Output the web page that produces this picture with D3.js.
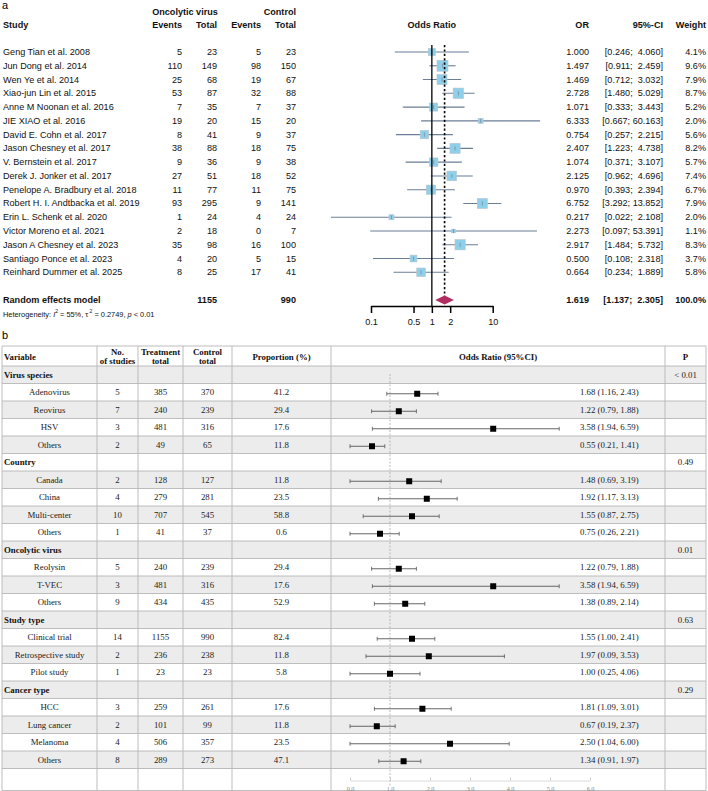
<!DOCTYPE html>
<html>
<head>
<meta charset="utf-8">
<script src="https://cdn.jsdelivr.net/npm/d3@7"></script>
<style>
  body { margin: 0; background: #fff; }
  svg text { white-space: pre; }
</style>
</head>
<body>
<svg id="chart" width="708" height="791"></svg>
<script>
// ── Panel a: study-level data ───────────────────────
const studies = [
  'Geng Tian et al. 2008', 'Jun Dong et al. 2014', 'Wen Ye et al. 2014',
  'Xiao-jun Lin et al. 2015', 'Anne M Noonan et al. 2016', 'JIE XIAO et al. 2016',
  'David E. Cohn et al. 2017', 'Jason Chesney et al. 2017', 'V. Bernstein et al. 2017',
  'Derek J. Jonker et al. 2017', 'Penelope A. Bradbury et al. 2018',
  'Robert H. I. Andtbacka et al. 2019', 'Erin L. Schenk et al. 2020',
  'Victor Moreno et al. 2021', 'Jason A Chesney et al. 2023',
  'Santiago Ponce et al. 2023', 'Reinhard Dummer et al. 2025'
];
const eventsOV  = [5, 110, 25, 53, 7, 19, 8, 38, 9, 27, 11, 93, 1, 2, 35, 4, 8];
const totalOV   = [23, 149, 68, 87, 35, 20, 41, 88, 36, 51, 77, 295, 24, 18, 98, 20, 25];
const eventsCtl = [5, 98, 19, 32, 7, 15, 9, 18, 9, 18, 11, 9, 4, 0, 16, 5, 17];
const totalCtl  = [23, 150, 67, 88, 37, 20, 37, 75, 38, 52, 75, 141, 24, 7, 100, 15, 41];
const orVals    = [1.000, 1.497, 1.469, 2.728, 1.071, 6.333, 0.754, 2.407, 1.074, 2.125, 0.970, 6.752, 0.217, 2.273, 2.917, 0.500, 0.664];
const ciLow     = [0.246, 0.911, 0.712, 1.480, 0.333, 0.667, 0.257, 1.223, 0.371, 0.962, 0.393, 3.292, 0.022, 0.097, 1.484, 0.108, 0.234];
const ciHigh    = [4.060, 2.459, 3.032, 5.029, 3.443, 60.163, 2.215, 4.738, 3.107, 4.696, 2.394, 13.852, 2.108, 53.391, 5.732, 2.318, 1.889];
const weights   = [4.1, 9.6, 7.9, 8.7, 5.2, 2.0, 5.6, 8.2, 5.7, 7.4, 6.7, 7.9, 2.0, 1.1, 8.3, 3.7, 5.8];
const pooled    = [1.619, 1.137, 2.305];   // OR, lower, upper
const pooledTotals = [1155, 990];
const logTicks  = [0.1, 0.5, 1, 2, 10];

// ── Panel b: subgroup data ──────────────────────────
const groupNames = ['Virus species', 'Country', 'Oncolytic virus', 'Study type', 'Cancer type'];
const groupP     = ['< 0.01', '0.49', '0.01', '0.63', '0.29'];
const groupOf    = [0, 0, 0, 0, 1, 1, 1, 1, 2, 2, 2, 3, 3, 3, 4, 4, 4, 4];
const subNames   = ['Adenovirus', 'Reovirus', 'HSV', 'Others', 'Canada', 'China', 'Multi-center', 'Others',
                    'Reolysin', 'T-VEC', 'Others', 'Clinical trial', 'Retrospective study', 'Pilot study',
                    'HCC', 'Lung cancer', 'Melanoma', 'Others'];
const subN       = [5, 7, 3, 2, 2, 4, 10, 1, 5, 3, 9, 14, 2, 1, 3, 2, 4, 8];
const subTreat   = [385, 240, 481, 49, 128, 279, 707, 41, 240, 481, 434, 1155, 236, 23, 259, 101, 506, 289];
const subCtrl    = [370, 239, 316, 65, 127, 281, 545, 37, 239, 316, 435, 990, 238, 23, 261, 99, 357, 273];
const subProp    = ['41.2', '29.4', '17.6', '11.8', '11.8', '23.5', '58.8', '0.6', '29.4', '17.6', '52.9',
                    '82.4', '11.8', '5.8', '17.6', '11.8', '23.5', '47.1'];
const subOrText  = ['1.68 (1.16, 2.43)', '1.22 (0.79, 1.88)', '3.58 (1.94, 6.59)', '0.55 (0.21, 1.41)',
                    '1.48 (0.69, 3.19)', '1.92 (1.17, 3.13)', '1.55 (0.87, 2.75)', '0.75 (0.26, 2.21)',
                    '1.22 (0.79, 1.88)', '3.58 (1.94, 6.59)', '1.38 (0.89, 2.14)', '1.55 (1.00, 2.41)',
                    '1.97 (0.09, 3.53)', '1.00 (0.25, 4.06)', '1.81 (1.09, 3.01)', '0.67 (0.19, 2.37)',
                    '2.50 (1.04, 6.00)', '1.34 (0.91, 1.97)'];
// positions of the plotted marks as drawn in the figure
const subPt      = [1.68, 1.22, 3.58, 0.55, 1.48, 1.92, 1.55, 0.75, 1.22, 3.58, 1.38, 1.55, 1.97, 1.00, 1.81, 0.67, 2.50, 1.34];
const subLo      = [0.92, 0.54, 0.56, 0.00, 0.00, 0.71, 0.33, 0.00, 0.54, 0.56, 0.61, 0.68, 0.40, 0.00, 0.61, 0.00, 0.00, 0.72];
const subHi      = [2.20, 1.66, 5.23, 0.87, 2.28, 2.68, 2.23, 1.23, 1.66, 5.23, 1.87, 2.12, 3.86, 1.75, 2.53, 1.13, 3.98, 1.77];
const linTicks   = [0, 1, 2, 3, 4, 5, 6];

const svg = d3.select('#chart');
const SANS  = 'Liberation Sans, Arial, sans-serif';
const SERIF = 'Liberation Serif, Times New Roman, serif';

/* ─────────────────────────────────────────────────
   Panel a — meta-analysis forest plot
   ───────────────────────────────────────────────── */
const a = svg.append('g').attr('font-family', SANS).attr('font-size', 9.1).attr('fill', '#111');

const rowY0 = 52, rowH = 13.77;
const yRow  = i => rowY0 + i * rowH;
const yPool = 300;

const x = d3.scaleLog().domain([0.1, 10]).range([371, 492.7]);

svg.append('text').attr('x', 2).attr('y', 9).attr('font-family', SANS)
  .attr('font-size', 11).text('a');

// headers
const hdr = a.append('g').attr('font-weight', 'bold');
hdr.append('text').attr('x', 185).attr('y', 12).attr('text-anchor', 'middle')
  .attr('dominant-baseline', 'central').text('Oncolytic virus');
hdr.append('text').attr('x', 296).attr('y', 12).attr('text-anchor', 'end')
  .attr('dominant-baseline', 'central').text('Control');
[['Study', 3, 'start'], ['Events', 182, 'end'], ['Total', 217, 'end'],
 ['Events', 261, 'end'], ['Total', 296, 'end'], ['Odds Ratio', 431.8, 'middle'],
 ['OR', 589, 'end'], ['95%-CI', 663, 'end'], ['Weight', 706, 'end']]
  .forEach(([t, xx, anc]) => {
    hdr.append('text').attr('x', xx).attr('y', 25).attr('text-anchor', anc)
      .attr('dominant-baseline', 'central').text(t);
  });

// study rows: text columns
const fmt3 = d3.format('.3f');
const ciStr = (lo, hi) => '[' + fmt3(lo) + ';' + ' '.repeat(Math.max(1, 7 - fmt3(hi).length)) + fmt3(hi) + ']';

const rows = a.selectAll('.study').data(studies).enter().append('g')
  .attr('class', 'study')
  .attr('transform', (d, i) => `translate(0,${yRow(i)})`);

rows.append('text').attr('x', 3).attr('dominant-baseline', 'central').text(d => d);
const cols = [[eventsOV, 182], [totalOV, 217], [eventsCtl, 261], [totalCtl, 296]];
cols.forEach(([arr, xx]) => {
  rows.append('text').attr('x', xx).attr('text-anchor', 'end')
    .attr('dominant-baseline', 'central').text((d, i) => arr[i]);
});
rows.append('text').attr('x', 589).attr('text-anchor', 'end')
  .attr('dominant-baseline', 'central').text((d, i) => fmt3(orVals[i]));
rows.append('text').attr('x', 663).attr('text-anchor', 'end')
  .attr('dominant-baseline', 'central').text((d, i) => ciStr(ciLow[i], ciHigh[i]));
rows.append('text').attr('x', 706).attr('text-anchor', 'end')
  .attr('dominant-baseline', 'central').text((d, i) => weights[i].toFixed(1) + '%');

// reference lines
a.append('line').attr('x1', x(1)).attr('x2', x(1)).attr('y1', 45).attr('y2', 306)
  .attr('stroke', '#000').attr('stroke-width', 1.3);
a.append('line').attr('x1', x(pooled[0])).attr('x2', x(pooled[0])).attr('y1', 45).attr('y2', 300)
  .attr('stroke', '#000').attr('stroke-width', 1.6).attr('stroke-dasharray', '2.2,2.2');

// CIs, squares
rows.append('line')
  .attr('x1', (d, i) => x(ciLow[i])).attr('x2', (d, i) => x(ciHigh[i]))
  .attr('stroke', '#6a7f96').attr('stroke-width', 1.1);
rows.append('rect')
  .attr('x', (d, i) => x(orVals[i]) - 1.78 * Math.sqrt(weights[i]))
  .attr('y', (d, i) => -1.78 * Math.sqrt(weights[i]))
  .attr('width', (d, i) => 3.55 * Math.sqrt(weights[i]))
  .attr('height', (d, i) => 3.55 * Math.sqrt(weights[i]))
  .attr('fill', '#8ecfe9').attr('stroke', '#b9c4cc').attr('stroke-width', 0.6);
rows.append('line')
  .attr('x1', (d, i) => x(orVals[i])).attr('x2', (d, i) => x(orVals[i]))
  .attr('y1', -2).attr('y2', 2).attr('stroke', '#7d8d9c').attr('stroke-width', 0.8);

// pooled estimate
const pool = a.append('g').attr('font-weight', 'bold');
pool.append('text').attr('x', 3).attr('y', yPool).attr('dominant-baseline', 'central').text('Random effects model');
pool.append('text').attr('x', 217).attr('y', yPool).attr('text-anchor', 'end')
  .attr('dominant-baseline', 'central').text(pooledTotals[0]);
pool.append('text').attr('x', 296).attr('y', yPool).attr('text-anchor', 'end')
  .attr('dominant-baseline', 'central').text(pooledTotals[1]);
pool.append('text').attr('x', 589).attr('y', yPool).attr('text-anchor', 'end')
  .attr('dominant-baseline', 'central').text(fmt3(pooled[0]));
pool.append('text').attr('x', 663).attr('y', yPool).attr('text-anchor', 'end')
  .attr('dominant-baseline', 'central').text(ciStr(pooled[1], pooled[2]));
pool.append('text').attr('x', 706).attr('y', yPool).attr('text-anchor', 'end')
  .attr('dominant-baseline', 'central').text('100.0%');

a.append('path')
  .attr('d', `M${x(pooled[1])},${yPool} L${x(pooled[0])},${yPool - 4.6} L${x(pooled[2])},${yPool} L${x(pooled[0])},${yPool + 4.6} Z`)
  .attr('fill', '#b22d62');

// heterogeneity
const het = a.append('text').attr('x', 3).attr('y', 314).attr('font-size', 7.4)
  .attr('dominant-baseline', 'central');
het.append('tspan').text('Heterogeneity: ');
het.append('tspan').attr('font-style', 'italic').text('I');
het.append('tspan').attr('dy', -3).attr('font-size', 5).text('2');
het.append('tspan').attr('dy', 3).text(' = 55%, τ');
het.append('tspan').attr('dy', -3).attr('font-size', 5).text(' 2');
het.append('tspan').attr('dy', 3).text(' = 0.2749, ');
het.append('tspan').attr('font-style', 'italic').text('p');
het.append('tspan').text(' < 0.01');

// log axis
const axA = a.append('g').attr('transform', 'translate(0,306)')
  .call(d3.axisBottom(x).tickValues(logTicks).tickFormat(d => String(d)).tickSize(7).tickSizeOuter(0));
axA.select('.domain').attr('stroke', '#000').attr('stroke-width', 1.5);
axA.selectAll('.tick line').attr('stroke', '#000').attr('stroke-width', 1.5);
axA.selectAll('.tick text').attr('font-family', SANS).attr('font-size', 9.1)
  .attr('fill', '#111').attr('y', 13);

/* ─────────────────────────────────────────────────
   Panel b — subgroup table
   ───────────────────────────────────────────────── */
svg.append('text').attr('x', 2).attr('y', 339).attr('font-family', SANS)
  .attr('font-size', 11).text('b');

const b = svg.append('g').attr('font-family', SERIF).attr('font-size', 8.8).attr('fill', '#222');

const tblTop = 346, hdrBot = 366, tRowH = 17.5;
const colX = [2, 97, 138, 183, 232, 331, 665, 706];
const colMid = i => (colX[i] + colX[i + 1]) / 2;

// build table rows: group header followed by its items
const tblRows = [];
groupNames.forEach((g, gi) => {
  tblRows.push({ type: 'group', gi });
  groupOf.forEach((og, si) => { if (og === gi) tblRows.push({ type: 'sub', si }); });
});
const nRows = tblRows.length;
const yT = i => hdrBot + i * tRowH;
const tblBot = yT(nRows) + 22;

// shading
b.selectAll('.shade').data(tblRows).enter().append('rect')
  .attr('x', colX[0]).attr('width', colX[7] - colX[0])
  .attr('y', (d, i) => yT(i)).attr('height', tRowH)
  .attr('fill', (d, i) => i % 2 === 0 ? '#ececec' : '#fff');

// grid
const grid = b.append('g').attr('stroke', '#b5b5b5').attr('stroke-width', 0.9);
d3.range(nRows + 1).forEach(i => {
  grid.append('line').attr('x1', colX[0]).attr('x2', colX[7]).attr('y1', yT(i)).attr('y2', yT(i));
});
colX.forEach(cx => {
  grid.append('line').attr('x1', cx).attr('x2', cx).attr('y1', tblTop).attr('y2', tblBot);
});
grid.append('line').attr('x1', colX[0]).attr('x2', colX[7]).attr('y1', tblTop).attr('y2', tblTop);
grid.append('line').attr('x1', colX[0]).attr('x2', colX[7]).attr('y1', tblBot).attr('y2', tblBot);

// header
const th = b.append('g').attr('font-weight', 'bold').attr('text-anchor', 'middle').attr('fill', '#111');
th.append('text').attr('x', 4).attr('y', 357).attr('text-anchor', 'start')
  .attr('dominant-baseline', 'central').text('Variable');
[[1, 'No.', 'of studies'], [2, 'Treatment', 'total'], [3, 'Control', 'total']].forEach(([ci, l1, l2]) => {
  th.append('text').attr('x', colMid(ci)).attr('y', 351.5).attr('dominant-baseline', 'central').text(l1);
  th.append('text').attr('x', colMid(ci)).attr('y', 361).attr('dominant-baseline', 'central').text(l2);
});
[[4, 'Proportion (%)'], [5, 'Odds Ratio (95%CI)'], [6, 'P']].forEach(([ci, t]) => {
  th.append('text').attr('x', colMid(ci)).attr('y', 357).attr('dominant-baseline', 'central').text(t);
});

// body text
const xb = d3.scaleLinear().domain([0, 6]).range([350, 590]);

tblRows.forEach((r, i) => {
  const cy = yT(i) + tRowH / 2;
  if (r.type === 'group') {
    b.append('text').attr('x', 4).attr('y', cy).attr('dominant-baseline', 'central')
      .attr('font-weight', 'bold').attr('fill', '#111').text(groupNames[r.gi]);
    b.append('text').attr('x', colMid(6)).attr('y', cy).attr('text-anchor', 'middle')
      .attr('dominant-baseline', 'central').text(groupP[r.gi]);
  } else {
    const s = r.si;
    [[0, subNames[s]], [1, subN[s]], [2, subTreat[s]], [3, subCtrl[s]], [4, subProp[s]]].forEach(([ci, t]) => {
      b.append('text').attr('x', colMid(ci)).attr('y', cy).attr('text-anchor', 'middle')
        .attr('dominant-baseline', 'central').text(t);
    });
    b.append('text').attr('x', 580).attr('y', cy).attr('dominant-baseline', 'central').text(subOrText[s]);
  }
});

// reference line at OR = 1
b.append('line').attr('x1', xb(1)).attr('x2', xb(1)).attr('y1', yT(0) + 8).attr('y2', tblBot - 4)
  .attr('stroke', '#aaa').attr('stroke-width', 0.8).attr('stroke-dasharray', '2,1.5');

// error bars
const eb = b.append('g');
tblRows.forEach((r, i) => {
  if (r.type !== 'sub') return;
  const s = r.si, cy = yT(i) + tRowH / 2 + 1.5;
  eb.append('line').attr('x1', xb(subLo[s])).attr('x2', xb(subHi[s])).attr('y1', cy).attr('y2', cy)
    .attr('stroke', '#555').attr('stroke-width', 0.9);
  [subLo[s], subHi[s]].forEach(v => {
    eb.append('line').attr('x1', xb(v)).attr('x2', xb(v)).attr('y1', cy - 2).attr('y2', cy + 2)
      .attr('stroke', '#555').attr('stroke-width', 0.8);
  });
  eb.append('rect').attr('x', xb(subPt[s]) - 3).attr('y', cy - 3).attr('width', 6).attr('height', 6)
    .attr('fill', '#000');
});

// linear axis
const axB = b.append('g').attr('transform', `translate(0,${yT(nRows) + 12})`)
  .call(d3.axisTop(xb).tickValues(linTicks).tickFormat(d3.format('.1f')).tickSize(3).tickSizeOuter(0));
axB.select('.domain').attr('stroke', '#ccc').attr('stroke-width', 0.7);
axB.selectAll('.tick line').attr('stroke', '#bbb').attr('stroke-width', 0.7);
axB.selectAll('.tick text').attr('font-family', SERIF).attr('font-size', 6.2)
  .attr('fill', '#888').attr('y', 8).attr('dy', '0.35em');
</script>
</body>
</html>
